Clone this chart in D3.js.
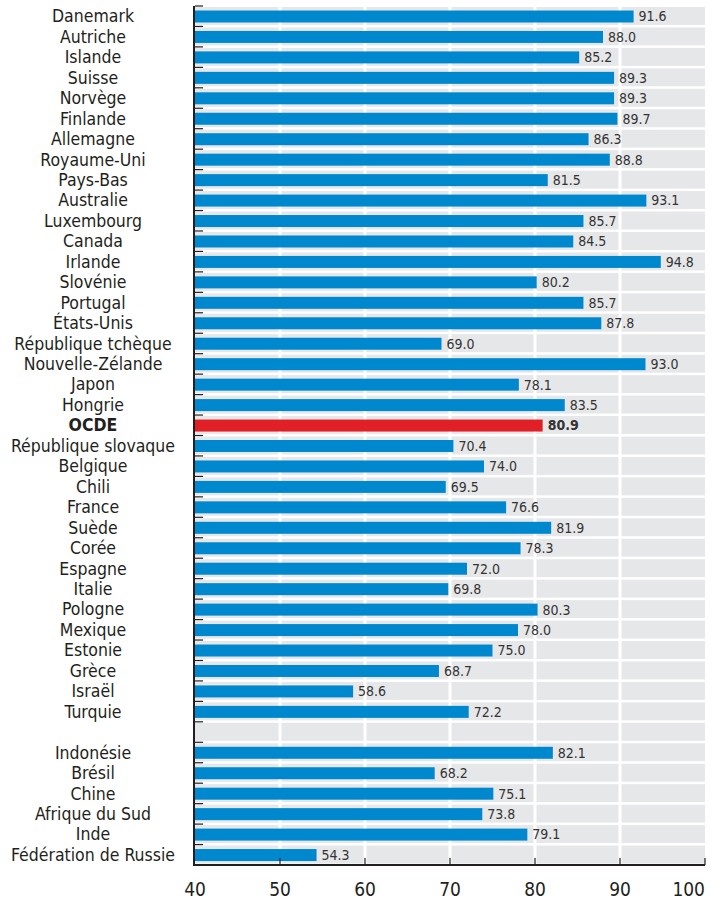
<!DOCTYPE html>
<html>
<head>
<meta charset="utf-8">
<script src="https://cdn.jsdelivr.net/npm/d3@7"></script>
<style>
  body { margin: 0; background: #fff; }
  text { font-family: "Liberation Sans Narrow", "DejaVu Sans Condensed", sans-serif; fill: #231f20; }
</style>
</head>
<body>
<div id="chart"></div>
<script>
// pays OCDE (+ moyenne OCDE)
var pays = ["Danemark", "Autriche", "Islande", "Suisse", "Norvège", "Finlande", "Allemagne", "Royaume-Uni",
  "Pays-Bas", "Australie", "Luxembourg", "Canada", "Irlande", "Slovénie", "Portugal", "États-Unis",
  "République tchèque", "Nouvelle-Zélande", "Japon", "Hongrie", "OCDE", "République slovaque", "Belgique",
  "Chili", "France", "Suède", "Corée", "Espagne", "Italie", "Pologne", "Mexique", "Estonie", "Grèce",
  "Israël", "Turquie"]
var valeurs = [91.6, 88.0, 85.2, 89.3, 89.3, 89.7, 86.3, 88.8, 81.5, 93.1, 85.7, 84.5, 94.8, 80.2, 85.7, 87.8,
  69.0, 93.0, 78.1, 83.5, 80.9, 70.4, 74.0, 69.5, 76.6, 81.9, 78.3, 72.0, 69.8, 80.3, 78.0, 75.0, 68.7,
  58.6, 72.2]

// pays partenaires
var partenaires = ["Indonésie", "Brésil", "Chine", "Afrique du Sud", "Inde", "Fédération de Russie"]
var valeursPart = [82.1, 68.2, 75.1, 73.8, 79.1, 54.3]

var ticks = [40, 50, 60, 70, 80, 90, 100]

var W = 711, H = 900
var mGauche = 195, mDroite = 705, mHaut = 6, mBas = 865

var data = []
for (var i = 0; i < pays.length; i++) data.push({ key: pays[i], nom: pays[i], v: valeurs[i] })
data.push({ key: "_vide", nom: "", v: null })
for (var i = 0; i < partenaires.length; i++) data.push({ key: partenaires[i], nom: partenaires[i], v: valeursPart[i] })

var svg = d3.select("#chart")
  .append("svg")
  .attr("width", W)
  .attr("height", H)

var x = d3.scaleLinear().domain([40, 100]).range([mGauche, mDroite])
var y = d3.scaleBand().domain(data.map(function(d) { return d.key })).range([mHaut, mBas])
var step = y.step()

// bandes grises
svg.selectAll(".bande")
  .data(data)
  .enter()
    .append("rect")
    .attr("class", "bande")
    .attr("x", mGauche)
    .attr("y", function(d) { return y(d.key) + 1 })
    .attr("width", mDroite - mGauche)
    .attr("height", step - 2.5)
    .attr("fill", "#e6e7e8")

// grille verticale blanche
svg.selectAll(".grille")
  .data(ticks.slice(1, -1))
  .enter()
    .append("line")
    .attr("class", "grille")
    .attr("x1", function(d) { return x(d) })
    .attr("x2", function(d) { return x(d) })
    .attr("y1", mHaut)
    .attr("y2", mBas)
    .attr("stroke", "#fff")
    .attr("stroke-width", 3)

var vals = data.filter(function(d) { return d.v != null })

svg.selectAll(".barre")
  .data(vals)
  .enter()
    .append("rect")
    .attr("class", "barre")
    .attr("x", x(40))
    .attr("y", function(d) { return y(d.key) + 4.5 })
    .attr("width", function(d) { return x(d.v) - x(40) })
    .attr("height", 12)
    .attr("fill", function(d) { return d.key == "OCDE" ? "#e11f26" : "#0088cf" })

svg.selectAll(".valeur")
  .data(vals)
  .enter()
    .append("text")
    .attr("class", "valeur")
    .attr("x", function(d) { return x(d.v) + 5 })
    .attr("y", function(d) { return y(d.key) + 10.5 })
    .attr("dy", "0.35em")
    .attr("font-size", 14)
    .attr("font-weight", function(d) { return d.key == "OCDE" ? "bold" : "normal" })
    .style("fill", "#333")
    .text(function(d) { return d.v.toFixed(1) })

// noms des pays, centrés
svg.selectAll(".nom")
  .data(data)
  .enter()
    .append("text")
    .attr("class", "nom")
    .attr("x", 93)
    .attr("y", function(d) { return y(d.key) + step / 2 })
    .attr("dy", "0.35em")
    .attr("text-anchor", "middle")
    .attr("font-size", 17.5)
    .attr("font-weight", function(d) { return d.key == "OCDE" ? "bold" : "normal" })
    .text(function(d) { return d.nom })

// axe gauche + petits traits entre les lignes
var bornes = data.map(function(d) { return y(d.key) })
svg.selectAll(".traitG")
  .data(bornes)
  .enter()
    .append("line")
    .attr("class", "traitG")
    .attr("x1", mGauche)
    .attr("x2", mGauche + 8)
    .attr("y1", function(d) { return d })
    .attr("y2", function(d) { return d })
    .attr("stroke", "#231f20")
    .attr("stroke-width", 1.2)

svg.append("line")
  .attr("x1", mGauche - 1)
  .attr("x2", mGauche - 1)
  .attr("y1", mHaut)
  .attr("y2", mBas + 1)
  .attr("stroke", "#231f20")
  .attr("stroke-width", 2)

// axe du bas
svg.append("line")
  .attr("x1", mGauche - 2)
  .attr("x2", mDroite)
  .attr("y1", mBas)
  .attr("y2", mBas)
  .attr("stroke", "#231f20")
  .attr("stroke-width", 2)

svg.selectAll(".traitB")
  .data(ticks.slice(1))
  .enter()
    .append("line")
    .attr("class", "traitB")
    .attr("x1", function(d) { return x(d) })
    .attr("x2", function(d) { return x(d) })
    .attr("y1", mBas)
    .attr("y2", mBas - 7)
    .attr("stroke", "#231f20")
    .attr("stroke-width", 1.2)

svg.selectAll(".etiq")
  .data(ticks)
  .enter()
    .append("text")
    .attr("class", "etiq")
    .attr("x", function(d) { return d == 100 ? x(d) : x(d) })
    .attr("y", 896)
    .attr("text-anchor", function(d) { return d == 100 ? "end" : "middle" })
    .attr("font-size", 19)
    .text(function(d) { return d })
</script>
</body>
</html>
